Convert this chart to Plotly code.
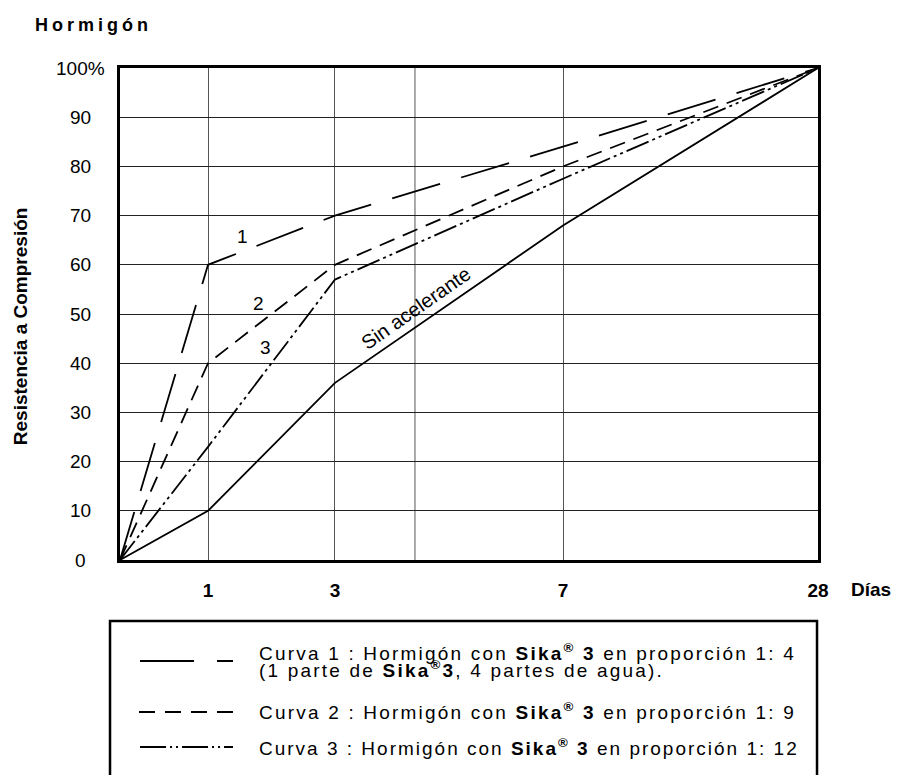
import plotly.graph_objects as go

# ---- data ----
day_labels = ["0", "1", "3", "7", "28"]
# relative position of each age on the original (non-linear) time scale, 0..100
day_scale = [0, 12.61, 30.80, 63.47, 100]
extra_grid = [42.26]          # unlabeled grid line between 3 and 7 days

sin_acelerante = [0, 10, 36, 68, 100]
curva_1 = [0, 60, 70, 84, 100]
curva_2 = [0, 40, 60, 80, 100]
curva_3 = [0, 23, 57, 77.5, 100]

y_ticks = [0, 10, 20, 30, 40, 50, 60, 70, 80, 90, 100]
y_tick_text = ["0", "10", "20", "30", "40", "50", "60", "70", "80", "90", "100%"]

legend_rows = [
    'Curva 1 : Hormigón con <b>Sika<sup>®</sup> 3</b> en proporción 1: 4',
    '(1 parte de <b>Sika<sup>®</sup>3</b>, 4 partes de agua).',
    'Curva 2 : Hormigón con <b>Sika<sup>®</sup> 3</b> en proporción 1: 9',
    'Curva 3 : Hormigón con <b>Sika<sup>®</sup> 3</b> en proporción 1: 12',
]

FONT = "Arial, Liberation Sans, sans-serif"
LW = 1.8
dash1 = "50px,22px"
dash2 = "16px,9px"
dash3 = "24px,4px,3px,4px,3px,4px"

fig = go.Figure()
fig.add_trace(go.Scatter(x=day_scale, y=sin_acelerante, mode="lines",
                         line=dict(color="black", width=LW), name="Sin acelerante"))
fig.add_trace(go.Scatter(x=day_scale, y=curva_1, mode="lines",
                         line=dict(color="black", width=LW, dash=dash1), name="Curva 1"))
fig.add_trace(go.Scatter(x=day_scale, y=curva_2, mode="lines",
                         line=dict(color="black", width=LW, dash=dash2), name="Curva 2"))
fig.add_trace(go.Scatter(x=day_scale, y=curva_3, mode="lines",
                         line=dict(color="black", width=LW, dash=dash3), name="Curva 3"))

fig.update_layout(
    width=895, height=767,
    margin=dict(l=112, r=85, t=60, b=215),
    paper_bgcolor="white", plot_bgcolor="white",
    showlegend=False,
    font=dict(family=FONT, color="black"),
    xaxis=dict(range=[0, 100], tickvals=day_scale[1:], ticktext=day_labels[1:],
               showgrid=True, gridcolor="#555", gridwidth=1, zeroline=False,
               showline=True, mirror=True, linecolor="black", linewidth=2.5,
               ticks="", ticklabelstandoff=11,
               tickfont=dict(family=FONT, size=19, weight="bold", color="black")),
    yaxis=dict(range=[0, 100], tickvals=y_ticks, showticklabels=False,
               showgrid=True, gridcolor="#222", gridwidth=1, zeroline=False,
               showline=True, mirror=True, linecolor="black", linewidth=2.5,
               ticks=""),
)

ann = []
for v, t in zip(y_ticks, y_tick_text):
    ann.append(dict(x=-0.056, y=v, xref="paper", yref="y", text=t, showarrow=False,
                    xanchor="center", yanchor="middle", font=dict(size=19)))

# curve labels
ann += [
    dict(x=17.6, y=65.7, text="1", showarrow=False, font=dict(size=19)),
    dict(x=19.8, y=52.2, text="2", showarrow=False, font=dict(size=19)),
    dict(x=20.8, y=43.1, text="3", showarrow=False, font=dict(size=19)),
    dict(x=42.4, y=51.2, text="Sin acelerante", showarrow=False, textangle=-35,
         font=dict(size=20)),
]

# titles
ann += [
    dict(x=-0.1246, y=1.087, xref="paper", yref="paper", xanchor="left", yanchor="middle",
         text='<span style="letter-spacing:4px">Hormigón</span>', showarrow=False,
         font=dict(size=18, weight="bold")),
    dict(x=-0.143, y=0.4756, xref="paper", yref="paper", textangle=-90,
         xanchor="center", yanchor="middle",
         text="Resistencia a Compresión", showarrow=False,
         font=dict(size=19, weight="bold")),
    dict(x=1.076, y=-0.059, xref="paper", yref="paper", text="Días", showarrow=False,
         xanchor="center", yanchor="middle",
         font=dict(size=19, weight="bold")),
]

# legend text
legend_y = [-0.187, -0.221, -0.306, -0.381]
legend_spacing = [2.2, 2.2, 2.2, 2.0]
for t, yy, ls in zip(legend_rows, legend_y, legend_spacing):
    ann.append(dict(x=0.1963, y=yy, xref="paper", yref="paper", xanchor="left",
                    yanchor="middle", showarrow=False,
                    text='<span style="letter-spacing:%spx">' % ls + t + '</span>',
                    font=dict(size=19)))
fig.update_layout(annotations=ann)

# extra unlabeled grid line, legend box and legend samples
shapes = [dict(type="line", xref="x", yref="paper", x0=g, x1=g, y0=0, y1=1, layer="below",
               line=dict(color="#555", width=1)) for g in extra_grid]
shapes += [
    dict(type="rect", xref="paper", yref="paper", x0=-0.0143, x1=0.9986, y0=-0.60, y1=-0.124,
         line=dict(color="black", width=2.5)),
    dict(type="line", xref="paper", yref="paper", x0=0.0287, x1=0.1619, y0=-0.2053, y1=-0.2053,
         line=dict(color="black", width=2, dash="54px,23px")),
    dict(type="line", xref="paper", yref="paper", x0=0.0272, x1=0.1619, y0=-0.3089, y1=-0.3089,
         line=dict(color="black", width=2, dash="16px,10px")),
    dict(type="line", xref="paper", yref="paper", x0=0.0287, x1=0.1619, y0=-0.380, y1=-0.380,
         line=dict(color="black", width=2, dash="26px,4px,2px,4px,2px,4px")),
]
fig.update_layout(shapes=shapes)

fig.write_html("out.html")
